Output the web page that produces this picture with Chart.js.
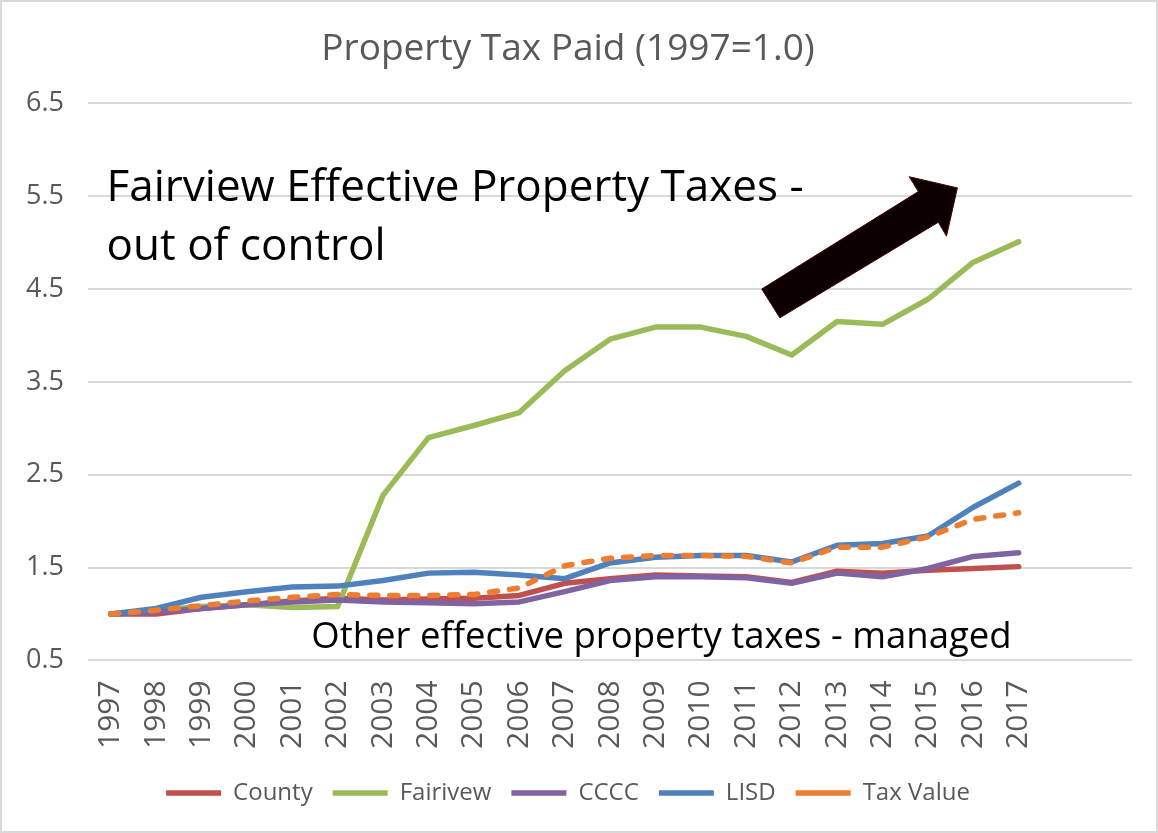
<!DOCTYPE html>
<html>
<head>
<meta charset="utf-8">
<script src="https://cdn.jsdelivr.net/npm/chart.js@4.4.1/dist/chart.umd.min.js"></script>
<style>
  body { margin: 0; background: #fff; }
  canvas { display: block; }
</style>
</head>
<body>
<canvas id="chart" width="1158" height="833"></canvas>
<script>
// years on the category axis, two blank slots at the end like the original sheet
const years = ["1997", "1998", "1999", "2000", "2001", "2002", "2003", "2004", "2005", "2006", "2007",
  "2008", "2009", "2010", "2011", "2012", "2013", "2014", "2015", "2016", "2017", "", ""];

const county = [1.0, 1.0, 1.06, 1.10, 1.14, 1.17, 1.15, 1.16, 1.17, 1.20, 1.33,
  1.38, 1.42, 1.41, 1.40, 1.34, 1.46, 1.44, 1.47, 1.49, 1.51];
const fairview = [1.0, 1.04, 1.08, 1.10, 1.07, 1.08, 2.28, 2.90, 3.03, 3.17, 3.62,
  3.96, 4.09, 4.09, 3.99, 3.79, 4.15, 4.12, 4.39, 4.79, 5.01];
const cccc = [1.0, 1.02, 1.06, 1.10, 1.13, 1.15, 1.13, 1.12, 1.11, 1.13, 1.24,
  1.36, 1.40, 1.40, 1.39, 1.33, 1.44, 1.40, 1.49, 1.62, 1.66];
const lisd = [1.0, 1.06, 1.18, 1.24, 1.29, 1.30, 1.36, 1.44, 1.45, 1.42, 1.38,
  1.55, 1.61, 1.63, 1.63, 1.56, 1.74, 1.76, 1.84, 2.15, 2.41];
const taxValue = [1.0, 1.04, 1.09, 1.14, 1.18, 1.21, 1.20, 1.20, 1.21, 1.28, 1.52,
  1.60, 1.63, 1.63, 1.62, 1.55, 1.72, 1.72, 1.83, 2.02, 2.09];

const yTicks = [0.5, 1.5, 2.5, 3.5, 4.5, 5.5, 6.5];

const FONT = "'Open Sans', 'Noto Sans', sans-serif";
const GREY = "#595959";

// arrow outline in (category index, value) units
const arrowPts = [[14.34, 4.50], [17.79, 5.55], [17.59, 5.71], [18.65, 5.59],
  [18.41, 5.07], [18.23, 5.22], [14.74, 4.19]];

const extras = {
  id: "extras",
  afterDatasetsDraw(chart) {
    const ctx = chart.ctx;
    const xs = chart.scales.x, ys = chart.scales.y;
    ctx.save();
    // arrow
    ctx.beginPath();
    arrowPts.forEach((p, i) => {
      const px = xs.getPixelForValue(p[0]);
      const py = ys.getPixelForValue(p[1]);
      if (i === 0) ctx.moveTo(px, py); else ctx.lineTo(px, py);
    });
    ctx.closePath();
    ctx.fillStyle = "#0d0000";
    ctx.fill();
    ctx.strokeStyle = "#4a0000";
    ctx.lineWidth = 1;
    ctx.stroke();

    // annotations
    ctx.fillStyle = "#000";
    ctx.textBaseline = "alphabetic";
    ctx.textAlign = "left";
    ctx.font = "44px " + FONT;
    ctx.fillText("Fairview Effective Property Taxes -", xs.getPixelForValue(-0.09), ys.getPixelForValue(5.45));
    ctx.fillText("out of control", xs.getPixelForValue(-0.09), ys.getPixelForValue(4.81));
    ctx.font = "36.5px " + FONT;
    ctx.fillText("Other effective property taxes - managed", xs.getPixelForValue(4.42), ys.getPixelForValue(0.63));
    ctx.restore();
  },
  afterDraw(chart) {
    const ctx = chart.ctx;
    ctx.save();
    ctx.strokeStyle = "#d9d9d9";
    ctx.lineWidth = 2;
    ctx.strokeRect(1, 1, chart.width - 2, chart.height - 2);
    ctx.restore();
  }
};

function line(label, data, color, order, dash) {
  return {
    label: label,
    data: data,
    borderColor: color,
    backgroundColor: color,
    borderWidth: 5.5,
    borderDash: dash || [],
    borderCapStyle: "round",
    borderJoinStyle: "round",
    pointRadius: 0,
    pointHoverRadius: 0,
    tension: 0,
    order: order,
    pointStyle: "line"
  };
}

new Chart(document.getElementById("chart").getContext("2d"), {
  type: "line",
  data: {
    labels: years,
    datasets: [
      line("County", county, "#C0504D", 4),
      line("Fairivew", fairview, "#9BBB59", 3),
      line("CCCC", cccc, "#8064A2", 2),
      line("LISD", lisd, "#4F81BD", 1),
      line("Tax Value", taxValue, "#ED7D31", 0, [8, 12])
    ]
  },
  options: {
    responsive: false,
    animation: false,
    layout: { padding: { left: 2, right: 24, top: 0, bottom: 18 } },
    plugins: {
      title: {
        display: true,
        text: "Property Tax Paid (1997=1.0)",
        color: GREY,
        font: { family: FONT, size: 37, weight: "normal" },
        padding: { top: 27, bottom: 32 }
      },
      legend: {
        position: "bottom",
        reverse: true,
        labels: {
          usePointStyle: true,
          pointStyleWidth: 55,
          color: GREY,
          font: { family: FONT, size: 24 },
          padding: 20
        }
      },
      tooltip: { enabled: false }
    },
    scales: {
      x: {
        offset: true,
        grid: { display: false },
        border: { display: false },
        ticks: {
          color: GREY,
          font: { family: FONT, size: 30 },
          minRotation: 90,
          maxRotation: 90,
          autoSkip: false,
          padding: 12
        }
      },
      y: {
        min: 0.5,
        max: 6.5,
        afterBuildTicks(axis) { axis.ticks = yTicks.map(v => ({ value: v })); },
        grid: { color: "#d9d9d9", lineWidth: 2, drawTicks: false },
        border: { display: false },
        ticks: {
          color: GREY,
          font: { family: FONT, size: 27 },
          padding: 24,
          callback: v => v.toFixed(1)
        }
      }
    }
  },
  plugins: [extras]
});
</script>
</body>
</html>
